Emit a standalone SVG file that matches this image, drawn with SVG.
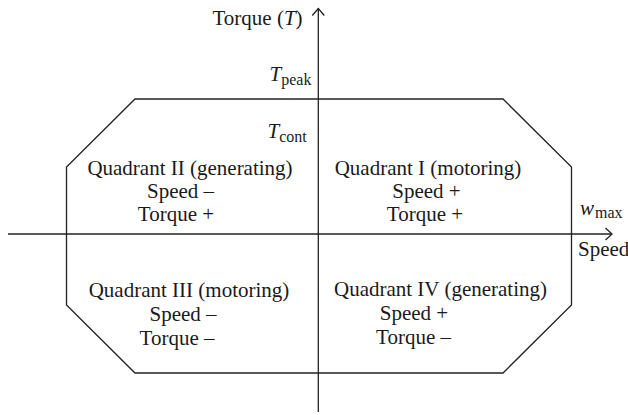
<svg xmlns="http://www.w3.org/2000/svg" width="628" height="415" viewBox="0 0 628 415">
<defs>
<style>
.t{font-family:"Liberation Serif","Times New Roman",serif;font-size:21px;fill:#1a1a1a}
.m{text-anchor:middle}
.i{font-style:italic}
.s{font-size:16px}
.ln{fill:none;stroke:#222;stroke-width:1.3}
</style>
</defs>
<rect width="628" height="415" fill="#fff"/>
<g id="envelope">
<polygon class="ln" points="135,99 503,99 571.5,167 571.5,305 503,373 135,373 66.5,305 66.5,167"/>
</g>
<g id="axes">
<line class="ln" x1="318.3" y1="412" x2="318.3" y2="8.5"/>
<polyline class="ln" points="312.3,15.5 318.3,8.5 324.3,15.5"/>
<line class="ln" x1="8" y1="234" x2="612" y2="234"/>
<polyline class="ln" points="605.5,228 612,234 605.5,240"/>
</g>
<g id="labels">
<text class="t" x="212.5" y="25">Torque (<tspan class="i">T</tspan>)</text>
<text class="t" x="269.5" y="81"><tspan class="i">T</tspan><tspan class="s" dy="4">peak</tspan></text>
<text class="t" x="267.5" y="138"><tspan class="i">T</tspan><tspan class="s" dy="4">cont</tspan></text>
<text class="t" x="580" y="215"><tspan class="i">w</tspan><tspan class="s" dx="1" dy="3">max</tspan></text>
<text class="t" x="578" y="256">Speed</text>
</g>
<g id="quadrant-2">
<text class="t m" x="190" y="175">Quadrant II (generating)</text>
<text class="t m" x="180.5" y="198">Speed –</text>
<text class="t m" x="176" y="221">Torque +</text>
</g>
<g id="quadrant-1">
<text class="t m" x="428" y="175">Quadrant I (motoring)</text>
<text class="t m" x="426.5" y="198">Speed +</text>
<text class="t m" x="425" y="221">Torque +</text>
</g>
<g id="quadrant-3">
<text class="t m" x="189" y="297">Quadrant III (motoring)</text>
<text class="t m" x="183" y="321">Speed –</text>
<text class="t m" x="177" y="345">Torque –</text>
</g>
<g id="quadrant-4">
<text class="t m" x="440.5" y="296">Quadrant IV (generating)</text>
<text class="t m" x="414" y="320">Speed +</text>
<text class="t m" x="413.5" y="344">Torque –</text>
</g>
</svg>
